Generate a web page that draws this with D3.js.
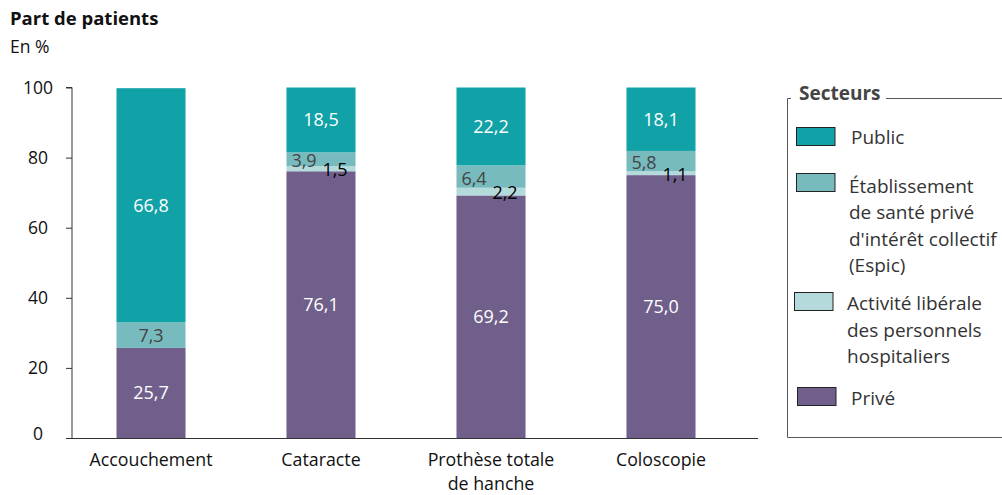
<!DOCTYPE html>
<html><head><meta charset="utf-8">
<script src="https://cdn.jsdelivr.net/npm/d3@7"></script>
<style>body{margin:0;background:#fff}svg{display:block}text{font-family:"Open Sans",sans-serif}</style>
</head><body><svg id="c" width="1002" height="495"></svg>
<script>
const categories = [["Accouchement"], ["Cataracte"], ["Prothèse totale", "de hanche"], ["Coloscopie"]];
const seriesNames = ["Privé", "Activité libérale", "Espic", "Public"];
const prive = [25.7, 76.1, 69.2, 75.0];
const liberale = [0, 1.5, 2.2, 1.1];
const espic = [7.3, 3.9, 6.4, 5.8];
const publicV = [66.8, 18.5, 22.2, 18.1];
const yTicks = [0, 20, 40, 60, 80, 100];
const legendLabels = [["Public"], ["Établissement", "de santé privé", "d'intérêt collectif", "(Espic)"], ["Activité libérale", "des personnels", "hospitaliers"], ["Privé"]];

const colors = {"Privé": "#6f5f8a", "Activité libérale": "#b5dadc", "Espic": "#78bbbf", "Public": "#11a2a8"};
const svg = d3.select("#c");

const x = d3.scaleBand().domain(d3.range(categories.length)).range([66, 746]).paddingInner(0.594).paddingOuter(0.297);
const y = d3.scaleLinear().domain([0, 100]).range([438, 87.5]);

svg.append("text").attr("x", 10).attr("y", 25).attr("font-weight", "bold").attr("font-size", 18.5).attr("fill", "#111").text("Part de patients");
svg.append("text").attr("x", 10).attr("y", 53).attr("font-size", 17.5).attr("fill", "#111").text("En %");

const rows = categories.map((c, i) => ({i, "Privé": prive[i], "Activité libérale": liberale[i], "Espic": espic[i], "Public": publicV[i]}));
const stack = d3.stack().keys(seriesNames)(rows);

svg.append("g").selectAll("g").data(stack).join("g").attr("fill", d => colors[d.key])
  .selectAll("rect").data(d => d).join("rect")
  .attr("x", d => x(d.data.i)).attr("width", x.bandwidth())
  .attr("y", d => y(d[1])).attr("height", d => y(d[0]) - y(d[1]));

// y axis
const ya = svg.append("g").attr("transform", "translate(72,0)")
  .call(d3.axisLeft(y).tickValues(yTicks).tickSize(6).tickFormat(d3.format("d")));
ya.select(".domain").attr("stroke", "#333").attr("d", "M-6,87.5H0V438");
ya.selectAll(".tick line").attr("stroke", "#333");
ya.selectAll("text").attr("x", -34).attr("text-anchor", "middle").attr("font-size", 17.5).attr("fill", "#111")
  .style("font-family", "'Open Sans',sans-serif");
ya.selectAll(".tick").filter(d => d === 0).select("text").attr("dy", "0.1em");
// x axis line
svg.append("line").attr("x1", 66).attr("x2", 758).attr("y1", 438.5).attr("y2", 438.5).attr("stroke", "#333");

// category labels
const cl = svg.append("g");
categories.forEach((c, i) => {
  c.forEach((ln, j) => {
    cl.append("text").attr("x", x(i) + x.bandwidth() / 2).attr("y", 466 + j * 24)
      .attr("text-anchor", "middle").attr("font-size", 17.8).attr("fill", "#111").text(ln);
  });
});

const fmt = v => d3.format(".1f")(v).replace(".", ",");
const lab = svg.append("g").attr("font-size", 18);
stack.forEach(s => {
  s.forEach(d => {
    const v = d[1] - d[0];
    if (v <= 0) return;
    const i = d.data.i;
    const cx = x(i) + x.bandwidth() / 2;
    let ty = y((d[0] + d[1]) / 2), tx = cx, fill = "#fff";
    if (s.key === "Espic") {
      fill = "#444";
      if (v < 7) { tx = cx - 17; ty += 1.5; }
    } else if (s.key === "Activité libérale") {
      fill = "#000";
      tx = cx + 14;
      ty += 1;
    }
    lab.append("text").attr("x", tx).attr("y", ty).attr("dy", "0.36em").attr("text-anchor", "middle")
      .attr("fill", fill).text(fmt(v));
  });
});

// legend
const lg = svg.append("g");
lg.append("path").attr("d", "M791,98.5H787.5V437.5H1002").attr("fill", "none").attr("stroke", "#555");
lg.append("path").attr("d", "M886,98.5H1002").attr("fill", "none").attr("stroke", "#555");
lg.append("text").attr("x", 799).attr("y", 100).attr("font-weight", "bold").attr("font-size", 19).attr("fill", "#444").text("Secteurs");
const legKeys = ["Public", "Espic", "Activité libérale", "Privé"];
const swY = [127, 173, 292, 387];
const swX = [796.5, 796.5, 794.5, 797.5];
const txX = [851, 849, 847, 851];
const txY = [143.5, 192.5, 310, 405];
legKeys.forEach((k, i) => {
  lg.append("rect").attr("x", swX[i]).attr("y", swY[i] + 0.5).attr("width", 38.5).attr("height", 18)
    .attr("fill", colors[k]).attr("stroke", "#222");
  legendLabels[i].forEach((ln, j) => {
    lg.append("text").attr("x", txX[i]).attr("y", txY[i] + j * 26.6).attr("font-size", 19).attr("fill", "#333").text(ln);
  });
});
</script></body></html>
